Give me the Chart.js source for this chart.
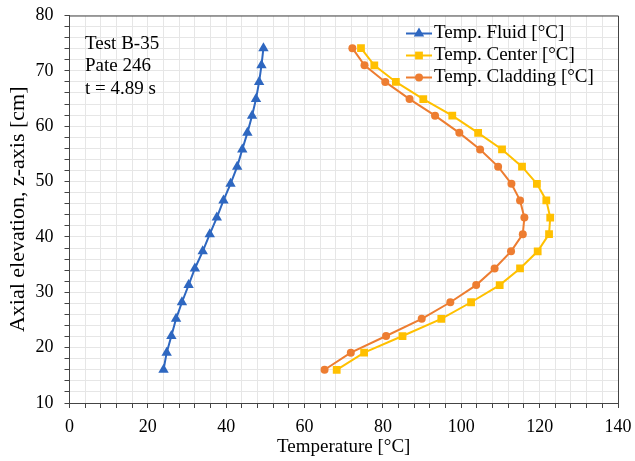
<!DOCTYPE html>
<html>
<head>
<meta charset="utf-8">
<script src="https://cdn.jsdelivr.net/npm/chart.js@4/dist/chart.umd.min.js"></script>
<style>
  html, body { margin: 0; padding: 0; background: #fff; }
  #wrap { width: 635px; height: 461px; }
</style>
</head>
<body>
<div id="wrap"><canvas id="c" width="635" height="461"></canvas></div>
<script>
// ---- Data ----
const elevation = [16.0, 19.1, 22.1, 25.2, 28.2, 31.3, 34.3, 37.4, 40.5, 43.5,
                   46.6, 49.6, 52.7, 55.8, 58.8, 61.9, 64.9, 68.0, 71.0, 74.1];
const tempFluid = [24.0, 24.8, 26.0, 27.2, 28.7, 30.4, 32.0, 34.0, 35.8, 37.6,
                   39.3, 41.1, 42.8, 44.1, 45.4, 46.6, 47.6, 48.4, 49.0, 49.5];
const tempCenter = [68.2, 75.2, 85.0, 94.9, 102.5, 109.8, 115.0, 119.5, 122.4, 122.7,
                    121.7, 119.3, 115.5, 110.4, 104.3, 97.7, 90.3, 83.3, 77.8, 74.4];
const tempCladding = [65.1, 71.8, 80.8, 89.9, 97.2, 103.8, 108.5, 112.7, 115.7, 116.1,
                      115.0, 112.8, 109.4, 104.8, 99.5, 93.3, 86.8, 80.6, 75.3, 72.2];
const seriesNames = ['Temp. Fluid [°C]', 'Temp. Center [°C]', 'Temp. Cladding [°C]'];
const annotationLines = ['Test B-35', 'Pate 246', 't = 4.89 s'];
const xLabelStep = 20;
const yLabelStep = 10;

const FONT = "'Liberation Serif', 'Times New Roman', serif";
const toPts = (arr) => arr.map((t, i) => ({ x: t, y: elevation[i] }));

const colors = ['#2E67C0', '#FFC000', '#ED7D31'];
const styles = ['triangle', 'rect', 'circle'];
const radii = [6, 5.5, 4];

const datasets = [tempFluid, tempCenter, tempCladding].map((arr, i) => ({
  label: seriesNames[i],
  data: toPts(arr),
  borderColor: colors[i],
  backgroundColor: colors[i],
  borderWidth: 2,
  pointStyle: styles[i],
  pointRadius: radii[i],
  pointBorderWidth: 0,
  pointBackgroundColor: colors[i],
  tension: 0,
  fill: false
}));

const framePlugin = {
  id: 'frame',
  beforeDatasetsDraw(chart) {
    const { ctx, chartArea: a } = chart;
    ctx.save();
    ctx.strokeStyle = '#444';
    ctx.lineWidth = 1;
    ctx.beginPath();
    ctx.moveTo(a.left, a.top + 0.5);
    ctx.lineTo(a.right + 0.5, a.top + 0.5);
    ctx.lineTo(a.right + 0.5, a.bottom);
    ctx.stroke();
    ctx.restore();
  },
  afterDraw(chart) {
    const { ctx } = chart;
    ctx.save();
    // annotation text
    ctx.font = '19px ' + FONT;
    ctx.fillStyle = '#000';
    ctx.textAlign = 'left';
    ctx.textBaseline = 'alphabetic';
    annotationLines.forEach((t, i) => ctx.fillText(t, 85, 48.5 + i * 22.6));
    // legend
    const lx0 = 406, lx1 = 432, tx = 434;
    chart.data.datasets.forEach((ds, i) => {
      const y = 33.5 + i * 22;
      ctx.strokeStyle = ds.borderColor;
      ctx.lineWidth = 2;
      ctx.beginPath();
      ctx.moveTo(lx0, y);
      ctx.lineTo(lx1, y);
      ctx.stroke();
      ctx.fillStyle = ds.borderColor;
      Chart.helpers.drawPoint(ctx, { pointStyle: ds.pointStyle, radius: ds.pointRadius, borderWidth: 0, rotation: 0 }, (lx0 + lx1) / 2, y);
      ctx.fillStyle = '#000';
      ctx.textBaseline = 'middle';
      ctx.font = '19px ' + FONT;
      ctx.fillText(ds.label, tx, y);
    });
    ctx.restore();
  }
};

new Chart(document.getElementById('c'), {
  type: 'line',
  data: { datasets },
  plugins: [framePlugin],
  options: {
    responsive: false,
    animation: false,
    devicePixelRatio: 1,
    layout: { padding: { top: 15.5, right: 17, left: 0, bottom: 0 } },
    plugins: { legend: { display: false }, tooltip: { enabled: false } },
    scales: {
      x: {
        type: 'linear',
        min: 0, max: 140,
        afterFit(s) { s.height = 58; s.paddingLeft = 0; s.paddingRight = 0; },
        ticks: {
          stepSize: 4, autoSkip: false, maxRotation: 0, color: '#000', padding: 8,
          font: { family: FONT, size: 18 },
          callback: (v) => (v % xLabelStep === 0 ? v : '')
        },
        grid: { color: '#e6e6e6', tickColor: '#444', tickLength: 5 },
        border: { display: true, color: '#444', width: 1 },
        title: { display: true, text: 'Temperature [°C]', color: '#000',
                 font: { family: FONT, size: 19 }, padding: { top: 0, bottom: 3 } }
      },
      y: {
        type: 'linear',
        min: 10, max: 80,
        afterFit(s) { s.width = 69.5; s.paddingTop = 0; s.paddingBottom = 0; },
        ticks: {
          stepSize: 2, autoSkip: false, color: '#000', padding: 11,
          font: { family: FONT, size: 18 },
          callback: (v) => (v % yLabelStep === 0 ? v : '')
        },
        grid: { color: '#e6e6e6', tickColor: '#444', tickLength: 5 },
        border: { display: true, color: '#444', width: 1 },
        title: { display: true, text: 'Axial elevation, z-axis [cm]', color: '#000',
                 font: { family: FONT, size: 22 }, padding: { top: 5, bottom: 0 } }
      }
    }
  }
});
</script>
</body>
</html>
